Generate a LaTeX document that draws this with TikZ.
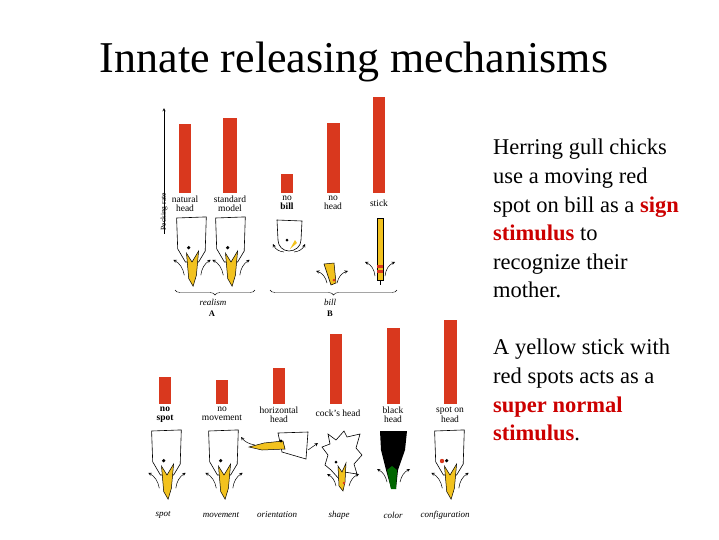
\documentclass[tikz,border=0pt]{standalone}
\usepackage{fontspec}
\setmainfont{Liberation Serif}
\usetikzlibrary{decorations.pathreplacing}
\definecolor{barred}{HTML}{D9381E}
\definecolor{beak}{HTML}{F2C21E}
\definecolor{signred}{HTML}{CC0000}
\tikzset{
 bar/.style={fill=barred,draw=none},
 lab/.style={font=\fontsize{9.5}{8.5}\selectfont,align=center,inner sep=0pt,anchor=north},
 cat/.style={font=\fontsize{9}{9}\selectfont\itshape,inner sep=0pt},
 body/.style={font=\fontsize{22.5}{28.6}\selectfont,align=left,anchor=north west,inner sep=0pt},
 arr/.style={->,>=stealth,line width=0.5pt},
 gull/.pic={
  \draw[fill=\pgfkeysvalueof{/tikz/headfill},line width=0.6pt] (-14,0) -- (13,-1) -- (12,30) -- (6,40) -- (-6,40) -- (-13,28) -- cycle;
  \draw[fill=\pgfkeysvalueof{/tikz/beakfill},line width=0.5pt] (-5,32) -- (0,40) -- (6,30) -- (4,52) -- (1,62) -- (-3,55) -- cycle;
  \fill (-3,27) circle (1.6);
  \draw[arr] (-7,52) to[bend right=25] (-17,38);
  \draw[arr] (8,52) to[bend left=25] (17,38);
 },
 headfill/.initial=white, beakfill/.initial=beak,
}
\begin{document}
\begin{tikzpicture}[x=1pt,y=-1pt]
\useasboundingbox (0,0) rectangle (719,539);
\node (title) at (354,62) {\fontsize{44}{44}\selectfont Innate releasing mechanisms};
\node[body] (t1) at (493,139) {Herring gull chicks\\use a moving red\\spot on bill as a \textcolor{signred}{\textbf{sign}}\\\textcolor{signred}{\textbf{stimulus}} to\\recognize their\\mother.};
\node[body] (t2) at (493,339) {A yellow stick with\\red spots acts as a\\\textcolor{signred}{\textbf{super normal}}\\\textcolor{signred}{\textbf{stimulus}}.};
% top panel
\node[rotate=90,font=\fontsize{7.5}{7.5}\selectfont,inner sep=0pt,anchor=east] (pr) at (164,193) {Pecking rate};
\coordinate (prtop) at (164,108);
\draw[arr] ([yshift=-3pt]pr.west) -- (prtop);
\fill[bar] (179,124) rectangle (191,193);
\fill[bar] (223,118) rectangle (237,193);
\fill[bar] (281,174) rectangle (293,193);
\fill[bar] (327,123) rectangle (340,193);
\fill[bar] (373,97) rectangle (385,193);
\node[lab] (l1) at (185,196) {natural\\head};
\node[lab] (l2) at (230,196) {standard\\model};
\node[lab] (l3) at (287,196) {no\\\textbf{bill}};
\node[lab] (l4) at (333,196) {no\\head};
\node[lab] (l5) at (379,200) {stick};
\pic[scale=1.1] at (192,218) {gull};
\pic[scale=1.1] at (231,218) {gull};
% no bill
\draw[fill=white,line width=0.6pt] (277,220) -- (302,221) -- (301,240) to[out=270,in=0] (289,251) to[out=180,in=270] (278,240) -- cycle;
\fill (287,240) circle (1.5);
\fill[beak] (290,249) -- (295,240) -- (297,243) -- cycle;
\draw[arr] (294,252) to[bend right=30] (305,244);
\draw[arr] (284,252) to[bend left=30] (273,244);
% no head
\draw[fill=beak,line width=0.5pt] (324,264) -- (334,263) -- (336,283) -- (331,285) -- cycle;
\fill[barred] (334,280) circle (1.5);
\draw[arr] (327,283) to[bend right=30] (316,271);
\draw[arr] (337,283) to[bend left=30] (348,271);
% stick
\draw[fill=beak,line width=0.5pt] (377,218) rectangle (383,280) ;
\fill[barred] (377,265) rectangle (383,267.5);
\fill[barred] (377,270) rectangle (383,272.5);
\draw (380,280) -- (380,285);
\draw[arr] (375,276) to[bend right=30] (365,262);
\draw[arr] (385,276) to[bend left=30] (395,262);
\draw[decorate,decoration={brace,amplitude=5pt,mirror}] (175,290) -- (255,290);
\draw[decorate,decoration={brace,amplitude=5pt,mirror}] (270,290) -- (397,290);
\node[cat] (realism) at (213,302) {realism};
\node[cat] (bill) at (330,302) {bill};
\node[font=\fontsize{8.5}{8}\selectfont\bfseries] (A) at (212,314) {A};
\node[font=\fontsize{8.5}{8}\selectfont\bfseries] (B) at (330,314) {B};
% bottom panel
\fill[bar] (159,377) rectangle (171,404);
\fill[bar] (216,380) rectangle (228,404);
\fill[bar] (273,368) rectangle (285,404);
\fill[bar] (330,334) rectangle (342,404);
\fill[bar] (387,328) rectangle (400,404);
\fill[bar] (444,320) rectangle (457,404);
\node[lab] (m1) at (165,407) {\textbf{no}\\\textbf{spot}};
\node[lab] (m2) at (222,407) {no\\movement};
\node[lab] (m3) at (279,407) {horizontal\\head};
\node[lab] (m4) at (338,410) {cock's head};
\node[lab] (m5) at (393,407) {black\\head};
\node[lab] (m6) at (450,407) {spot on\\head};
\pic[scale=1.1] at (167,431) {gull};
\pic[scale=1.1] at (224,431) {gull};
% horizontal head
\draw[fill=white,line width=0.6pt] (278,433) -- (308,432) -- (306,459) -- (282,452) -- cycle;
\draw[fill=beak,line width=0.5pt] (283,441) -- (264,443) -- (249,447) -- (262,450) -- (285,449) -- cycle;
\fill (281,441) circle (1.6);
\draw[arr] (255,445) to[bend left=20] (241,437);
\draw[arr] (308,450) -- (318,443);
% cock's head
\draw[fill=white,line width=0.6pt] (328,434) -- (336,440) -- (344,431) -- (347,437) -- (360,434) -- (356,448) -- (362,455) -- (354,464) -- (357,474) -- (344,472) -- (340,480) -- (331,470) -- (325,465) -- (328,455) -- (322,447) -- (330,444) -- cycle;
\draw[fill=beak,line width=0.5pt] (338,466) -- (342,472) -- (346,463) -- (345,482) -- (343,491) -- (339,486) -- cycle;
\fill[barred] (344,483) circle (1.3);
\fill (336,462) circle (1.5);
\draw[arr] (336,486) to[bend right=25] (327,474);
\draw[arr] (349,486) to[bend left=25] (359,474);
% black head
\fill (380,431) -- (407,431) -- (405,450) -- (398,470) -- (396,489) -- (391,488) -- (386,470) -- (381,450) -- cycle;
\fill[green!40!black] (387,470) -- (392,466) -- (397,470) -- (396,489) -- (391,489) -- cycle;
\draw[arr] (387,482) to[bend right=25] (377,469);
\draw[arr] (400,482) to[bend left=25] (410,469);
% spot on head
\pic[scale=1.1] at (450,431) {gull};
\fill[barred] (442,461) circle (2.2);
\node[cat] (c1) at (163,515) {spot};
\node[cat] (c2) at (221,515) {movement};
\node[cat] (c3) at (277,515) {orientation};
\node[cat] (c4) at (339,515) {shape};
\node[cat] (c5) at (393,515) {color};
\node[cat] (c6) at (445,515) {configuration};
\end{tikzpicture}
\end{document}
